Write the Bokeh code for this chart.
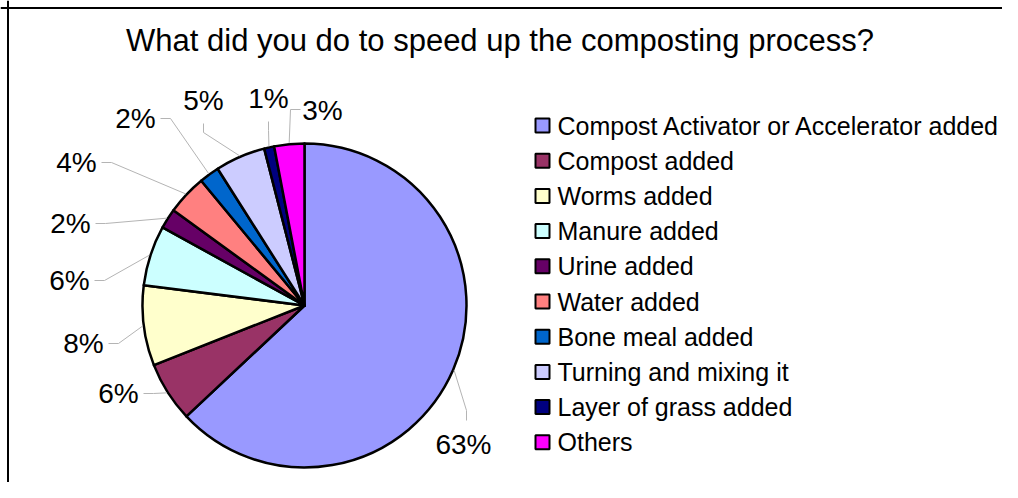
import math
from bokeh.plotting import figure
from bokeh.models import Range1d, Span, ColumnDataSource
from bokeh.embed import file_html
from bokeh.resources import INLINE
from bokeh.core.properties import value

# ---------------- data ----------------
title_text = "What did you do to speed up the composting process?"
categories = [
    "Compost Activator or Accelerator added",
    "Compost added",
    "Worms added",
    "Manure added",
    "Urine added",
    "Water added",
    "Bone meal added",
    "Turning and mixing it",
    "Layer of grass added",
    "Others",
]
percent = [63, 6, 8, 6, 2, 4, 2, 5, 1, 3]
colors = ["#9999FF", "#993366", "#FFFFCC", "#CCFFFF", "#660066",
          "#FF8080", "#0066CC", "#CCCCFF", "#000080", "#FF00FF"]

# ---------------- layout (pixels, image coordinates) ----------------
W, H = 1002, 482
CX, CY_IMG, R = 304, 305, 162
# label centre offsets from pie centre (x right, y up)
label_dx = [159, -186, -221, -235, -234, -228, -169, -101, -36, 18]
label_dy = [-139, -88, -38, 25, 82, 143, 187, 205, 207, 195]
label_side = ["B", "L", "L", "L", "L", "L", "L", "T", "T", "R"]
FONT = "Liberation Sans"


def py(img_y):
    return H - img_y


cy = py(CY_IMG)

p = figure(width=W, height=H, x_range=Range1d(0, W), y_range=Range1d(0, H),
           output_backend="svg", toolbar_location=None,
           x_axis_type=None, y_axis_type=None, min_border=0,
           outline_line_color=None, background_fill_color="white",
           border_fill_color="white")
p.grid.visible = False

# ---- pie ----
total = float(sum(percent))
starts, ends, mids = [], [], []
cum = 0.0
for v in percent:
    a0 = cum / total
    cum += v
    a1 = cum / total
    starts.append(math.pi / 2 - 2 * math.pi * a0)
    ends.append(math.pi / 2 - 2 * math.pi * a1)
    mids.append(2 * math.pi * (a0 + a1) / 2)  # clockwise from top

src = ColumnDataSource(dict(x=[CX] * len(percent), y=[cy] * len(percent),
                            start=starts, end=ends, color=colors))
p.wedge(x="x", y="y", radius=R, start_angle="start", end_angle="end",
        direction="clock", fill_color="color", line_color="black",
        line_width=2.5, line_join="round", source=src)

# ---- data labels & leader lines ----
lxs, lys, texts, xs, ys = [], [], [], [], []
for i, v in enumerate(percent):
    lx = CX + label_dx[i]
    ly = cy + label_dy[i]
    lxs.append(lx)
    lys.append(ly)
    texts.append(f"{round(100 * v / total)}%")
    sx = CX + (R + 1) * math.sin(mids[i])
    sy = cy + (R + 1) * math.cos(mids[i])
    s = label_side[i]
    if s == "L":
        e, k = (lx + 25, ly), (lx + 35, ly)
    elif s == "R":
        e, k = (lx - 22, ly + 1), (lx - 32, ly + 1)
    elif s == "T":
        e, k = (lx, ly - 23), (lx, ly - 32)
    else:
        e, k = (lx + 3, ly + 24), (lx + 3, ly + 34)
    xs.append([sx, k[0], e[0]])
    ys.append([sy, k[1], e[1]])

p.multi_line(xs=xs, ys=ys, line_color="#b4b4b4", line_width=1)
p.text(x=lxs, y=lys, text=texts, text_align="center", text_baseline="middle",
       text_font=value(FONT), text_font_size="28px", text_color="black")

# ---- legend ----
leg_y = [py(125 + 35.2 * i) for i in range(len(categories))]
p.rect(x=[542] * len(categories), y=leg_y, width=14, height=14,
       fill_color=colors, line_color="black", line_width=2)
p.text(x=[557] * len(categories), y=leg_y, text=categories,
       text_align="left", text_baseline="middle",
       text_font=value(FONT), text_font_size="25px", text_color="black")

# ---- title ----
p.text(x=[499.5], y=[py(39.5)], text=[title_text], text_align="center",
       text_baseline="alphabetic", text_font=value(FONT),
       text_font_size="31px", text_color="black")

# ---- chart border (top & left visible) ----
p.add_layout(Span(location=7.5, dimension="height", line_color="black", line_width=2))
p.add_layout(Span(location=H - 7.5, dimension="width", line_color="black", line_width=2))

open("out.html", "w").write(file_html(p, INLINE))
